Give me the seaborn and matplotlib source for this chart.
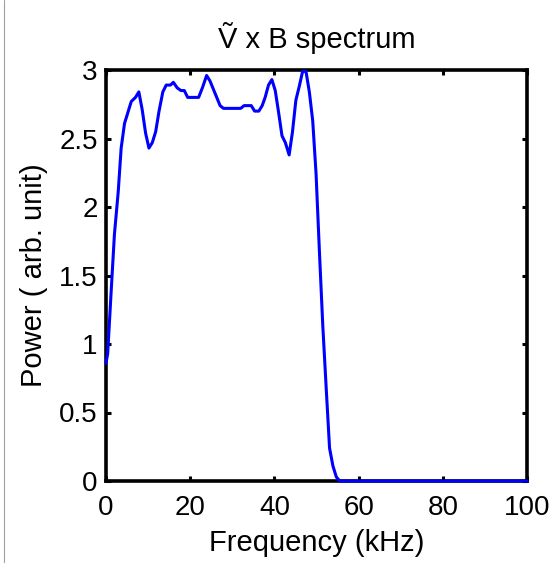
import matplotlib
matplotlib.use("Agg")
import matplotlib.pyplot as plt
from matplotlib.lines import Line2D
import seaborn as sns
import pandas as pd

freq_khz = [0.0, 0.4, 1.2, 2.0, 2.9, 3.6, 4.4, 5.2, 6.0, 7.0, 7.8, 8.6, 9.4, 10.2,
            11.0, 11.8, 12.6, 13.5, 14.3, 15.3, 16.0, 16.9, 17.8, 18.6, 19.4, 20.5,
            22.0, 22.9, 23.9, 24.7, 25.5, 26.3, 27.1, 27.9, 31.0, 32.0, 32.8, 34.5,
            35.3, 36.3, 37.1, 37.8, 38.6, 39.4, 40.2, 41.0, 41.8, 42.6, 43.5, 44.3,
            45.1, 45.9, 46.7, 47.5, 48.3, 49.1, 49.9, 50.7, 51.5, 52.3, 53.1, 53.9,
            54.7, 55.5, 100.0]
power = [0.86, 0.93, 1.37, 1.80, 2.11, 2.43, 2.61, 2.69, 2.77, 2.80, 2.84, 2.71, 2.54, 2.43,
         2.47, 2.55, 2.70, 2.84, 2.89, 2.89, 2.91, 2.87, 2.85, 2.85, 2.80, 2.80,
         2.80, 2.87, 2.96, 2.92, 2.86, 2.80, 2.74, 2.72, 2.72, 2.72, 2.74, 2.74,
         2.70, 2.70, 2.74, 2.80, 2.89, 2.93, 2.85, 2.69, 2.52, 2.47, 2.38, 2.55,
         2.78, 2.88, 2.99, 2.99, 2.84, 2.63, 2.24, 1.67, 1.13, 0.68, 0.24, 0.11,
         0.03, 0.0, 0.0]

x_ticks = [0, 20, 40, 60, 80, 100]
y_ticks = [0, 0.5, 1, 1.5, 2, 2.5, 3]
y_tick_labels = ["0", "0.5", "1", "1.5", "2", "2.5", "3"]

title_text = "\u1E7C x B spectrum"
x_label = "Frequency (kHz)"
y_label = "Power ( arb. unit)"

sns.set_style("ticks")
plt.rcParams["font.family"] = ["Liberation Sans", "DejaVu Sans"]

df = pd.DataFrame({"freq": freq_khz, "power": power})

fig = plt.figure(figsize=(5.54, 5.63), dpi=100)
ax = fig.add_axes([106 / 554, 1 - 481 / 563, (527 - 106) / 554, (481 - 70) / 563])

sns.lineplot(data=df, x="freq", y="power", ax=ax, color="#0000FF", linewidth=2.2,
             estimator=None, sort=False)
for ln in ax.get_lines():
    ln.set_clip_on(False)
    ln.set_zorder(5)

ax.set_xlim(0, 100)
ax.set_ylim(0, 3)
ax.set_xticks(x_ticks)
ax.set_xticklabels([str(t) for t in x_ticks])
ax.set_yticks(y_ticks)
ax.set_yticklabels(y_tick_labels)

for side in ["left", "right", "top", "bottom"]:
    ax.spines[side].set_visible(True)
    ax.spines[side].set_linewidth(2.6)
    ax.spines[side].set_color("black")
    ax.spines[side].set_zorder(1)

ax.tick_params(axis="both", which="major", direction="in", length=3.5, width=2.2,
               labelsize=20, colors="black", top=True, right=True)
ax.tick_params(axis="x", pad=10)
ax.tick_params(axis="y", pad=6)

ax.set_title(title_text, fontsize=21, pad=16, color="black")
ax.set_xlabel(x_label, fontsize=21, labelpad=6, color="black")
ax.set_ylabel(y_label, fontsize=21, labelpad=8, color="black")

fig.add_artist(Line2D([4 / 554, 4 / 554], [0, 1], color="#a0a0a0", linewidth=0.8))

fig.savefig("out.png", dpi=100, facecolor="white")
